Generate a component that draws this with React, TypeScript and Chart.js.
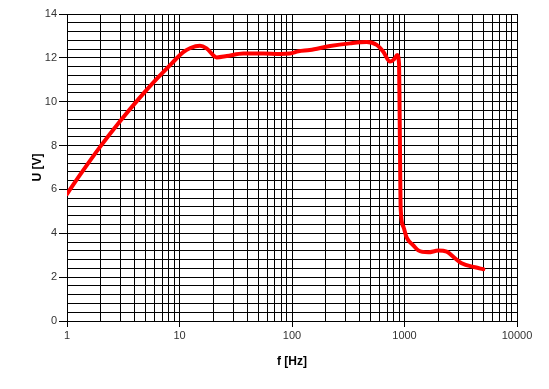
import React, { useEffect, useRef } from "react";
import { Chart, registerables } from "chart.js";

Chart.register(...registerables);

// Frequency (Hz) and voltage (V)
const freqs = [
  1, 1.3, 1.96, 2.96, 4.46, 6.27, 8.5, 10.8, 12.5, 15.2, 17.4, 21.4, 26.3,
  36.9, 55.6, 78, 96, 114, 144, 218, 328, 461, 566, 648, 743, 807, 863, 895,
  905, 915, 925, 977, 1046, 1197, 1327, 1629, 1997, 2371, 2812, 3223, 4235, 5017,
];
const volts = [
  5.79, 6.65, 7.93, 9.11, 10.2, 11.04, 11.74, 12.26, 12.45, 12.55, 12.43,
  12.02, 12.08, 12.2, 12.2, 12.18, 12.2, 12.3, 12.36, 12.54, 12.66, 12.72,
  12.59, 12.28, 11.83, 11.93, 12.13, 11.7, 9.5, 7.0, 5.1, 4.3, 3.8, 3.45,
  3.22, 3.13, 3.21, 3.16, 2.86, 2.63, 2.45, 2.36,
];

const yMin = 0;
const yMax = 14;
const yGridStep = 0.4;
const yLabelStep = 2;
const xDecades = [1, 10, 100, 1000, 10000];

export default function App() {
  const ref = useRef<HTMLCanvasElement>(null);

  useEffect(() => {
    document.body.style.margin = "0";
    const ctx = ref.current!.getContext("2d")!;
    const font = { family: "'Liberation Sans', Arial, sans-serif", size: 11 };
    const isMajorY = (v: number) =>
      Math.abs(v / yLabelStep - Math.round(v / yLabelStep)) < 1e-6;
    const isDecade = (v: number) =>
      Math.abs(Math.log10(v) - Math.round(Math.log10(v))) < 1e-9;

    const chart = new Chart(ctx, {
      type: "scatter",
      data: {
        datasets: [
          {
            data: freqs.map((f, i) => ({ x: f, y: volts[i] })),
            showLine: true,
            borderColor: "#ff0000",
            backgroundColor: "#ff0000",
            borderWidth: 4,
            pointRadius: 0,
            cubicInterpolationMode: "monotone",
            borderCapStyle: "round",
            borderJoinStyle: "round",
          },
        ],
      },
      options: {
        animation: false,
        responsive: false,
        layout: { padding: { left: 0, right: 32, top: 14, bottom: 0 } },
        plugins: { legend: { display: false }, tooltip: { enabled: false } },
        scales: {
          x: {
            type: "logarithmic",
            min: xDecades[0],
            max: xDecades[xDecades.length - 1],
            afterBuildTicks: (scale: any) => {
              const t: any[] = [];
              for (let d = 0; d < xDecades.length - 1; d++) {
                for (let m = 1; m <= 9; m++) t.push({ value: xDecades[d] * m });
              }
              t.push({ value: xDecades[xDecades.length - 1] });
              scale.ticks = t;
            },
            afterFit: (scale: any) => {
              scale.height = 68;
            },
            grid: {
              color: "#000",
              lineWidth: 1,
              tickLength: 6,
              tickColor: (c: any) =>
                c.tick && isDecade(c.tick.value) ? "#000" : "rgba(0,0,0,0)",
            },
            border: { color: "#000", width: 1 },
            ticks: {
              autoSkip: false,
              maxRotation: 0,
              padding: 2,
              color: "#333",
              font,
              callback: (v: any) => (isDecade(Number(v)) ? String(Number(v)) : ""),
            },
            title: {
              display: true,
              text: "f [Hz]",
              color: "#000",
              font: { family: font.family, size: 12, weight: "bold" },
              padding: { top: 0, bottom: 20 },
            },
          },
          y: {
            type: "linear",
            min: yMin,
            max: yMax,
            afterBuildTicks: (scale: any) => {
              const t: any[] = [];
              const n = Math.round((yMax - yMin) / yGridStep);
              for (let k = 0; k <= n; k++)
                t.push({ value: Math.round((yMin + k * yGridStep) * 1000) / 1000 });
              scale.ticks = t;
            },
            afterFit: (scale: any) => {
              scale.width = 67;
            },
            grid: {
              color: "#000",
              lineWidth: 1,
              tickLength: 8,
              tickColor: (c: any) =>
                c.tick && isMajorY(c.tick.value) ? "#000" : "rgba(0,0,0,0)",
            },
            border: { color: "#000", width: 1 },
            ticks: {
              autoSkip: false,
              padding: 2,
              color: "#333",
              font,
              callback: (v: any) =>
                isMajorY(Number(v)) ? String(Math.round(Number(v))) : "",
            },
            title: {
              display: true,
              text: "U [V]",
              color: "#000",
              font: { family: font.family, size: 12, weight: "bold" },
              padding: { top: 30, bottom: 0 },
            },
          },
        },
      },
    } as any);
    return () => chart.destroy();
  }, []);

  return <canvas ref={ref} width={549} height={389} style={{ display: "block" }} />;
}
